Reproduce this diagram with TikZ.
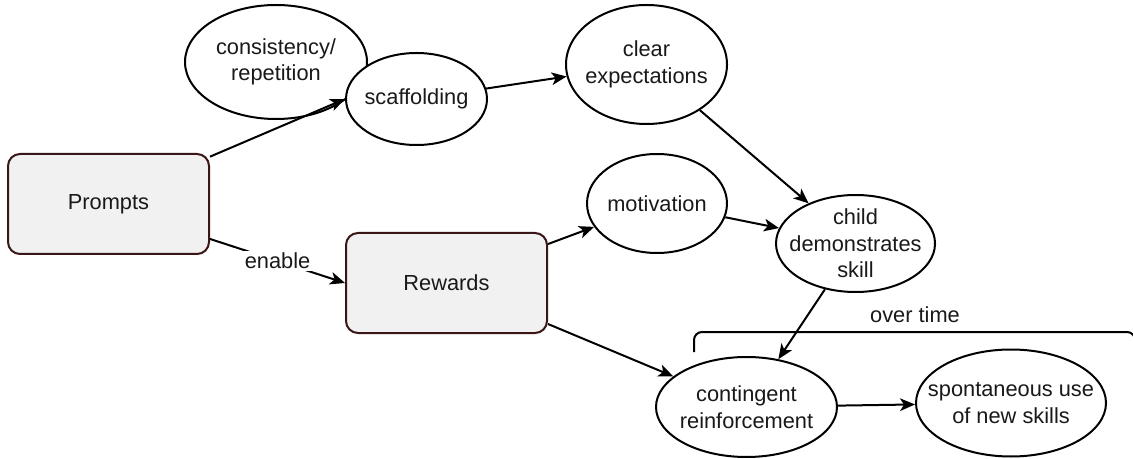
\documentclass[tikz,border=0pt]{standalone}
\usepackage{fontspec}
\setmainfont{Liberation Sans}
\usetikzlibrary{shapes.geometric,arrows.meta}
\definecolor{boxfill}{RGB}{241,241,241}
\definecolor{boxline}{RGB}{58,22,22}
\definecolor{ink}{RGB}{25,25,25}
\begin{document}
\begin{tikzpicture}[x=0.5pt,y=-0.5pt,
  every node/.style={font=\fontsize{10.9}{13.3}\selectfont, text=ink, align=center},
  idea/.style={ellipse, draw=black, line width=1pt, fill=white,
    inner xsep=-12pt, inner ysep=-4pt},
  factor/.style={rectangle, rounded corners=6pt, draw=boxline, fill=boxfill,
    line width=1pt, minimum width=100.5pt, minimum height=50pt},
  link/.style={line width=1pt, -{Stealth[length=7.5pt,width=6.3pt,inset=2pt]}},
  tag/.style={fill=white, inner sep=1pt},
]
\useasboundingbox (0,0) rectangle (1133,459);

% boxes
\node[factor] (prompts) at (108.5,204) {Prompts};
\node[factor] (rewards) at (446.5,283) {Rewards};

% ellipses
\node[idea, minimum width=91pt, minimum height=57pt] (consistency) at (276,62) {consistency/\\repetition};
\node[idea, minimum width=70.5pt, minimum height=46pt] (scaffolding) at (416.5,99) {scaffolding};
\node[idea, minimum width=80.5pt, minimum height=59.5pt] (clear) at (646.5,64.5) {clear\\expectations};
\node[idea, minimum width=70pt, minimum height=49.5pt] (motivation) at (657,203.5) {motivation};
\node[idea, minimum width=79.5pt, minimum height=48.5pt] (child) at (855.5,243.5) {child\\demonstrates\\skill};
\node[idea, minimum width=90.5pt, minimum height=50pt] (contingent) at (746.5,407) {contingent\\reinforcement};
\node[idea, minimum width=95pt, minimum height=53.5pt] (spontaneous) at (1011,403) {spontaneous use\\of new skills};

% connectors
\draw[link] (prompts.25) -- (scaffolding.west);
\draw[link] (prompts.-19) -- node[tag] {enable} (rewards.west);
\draw[link] (scaffolding) -- (clear);
\draw[link] (clear) -- (child);
\draw[link] (rewards.21) -- (motivation);
\draw[link] (motivation) -- (child);
\draw[link] (child) -- (contingent);
\draw[link] (rewards.-22) -- (contingent);
\draw[link] (contingent) -- (spontaneous);

% "over time" bracket
\begin{scope}
  \clip (0,0) rectangle (1133,459);
  \draw[line width=1pt, rounded corners=4pt] (694,352) -- (694,332) -- (1135,332) -- (1135,360);
\end{scope}
\node (overtime) at (915,315) {over time};
\end{tikzpicture}
\end{document}
